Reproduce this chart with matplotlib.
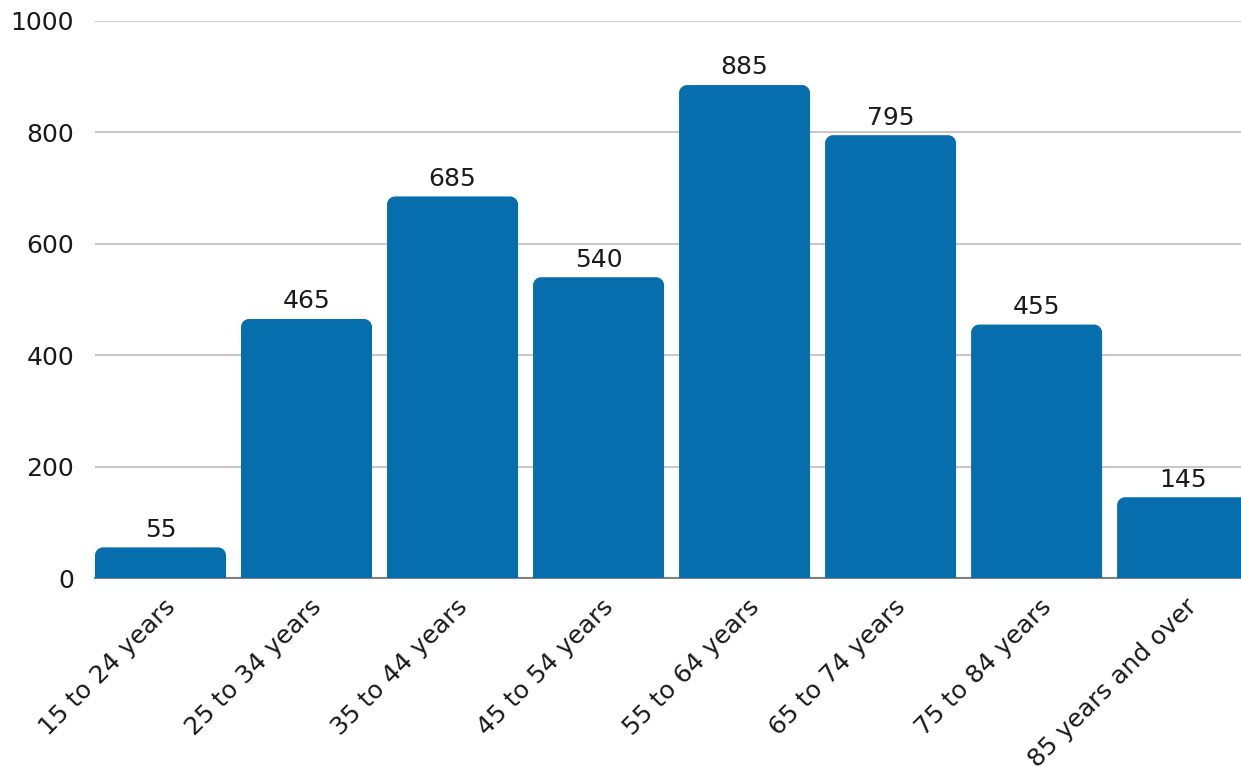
import matplotlib
matplotlib.use("Agg")
import matplotlib.pyplot as plt
from matplotlib.path import Path
from matplotlib.patches import PathPatch
from matplotlib.transforms import ScaledTranslation

categories = ["15 to 24 years", "25 to 34 years", "35 to 44 years", "45 to 54 years",
              "55 to 64 years", "65 to 74 years", "75 to 84 years", "85 years and over"]
values = [55, 465, 685, 540, 885, 795, 455, 145]
y_ticks = [0, 200, 400, 600, 800, 1000]

BAR_COLOR = "#066EAC"
TEXT_COLOR = "#1a1a1a"
FS = 18
plt.rcParams["font.family"] = ["DejaVu Sans"]

W, H = 1241, 772
fig = plt.figure(figsize=(W / 100, H / 100), dpi=100)
left, right, bottom, top = 95 / W, 1.0, 1 - 578 / H, 1 - 21 / H
ax = fig.add_axes([left, bottom, right - left, top - bottom])

bar_w = 131 / 146
xmin, xmax = -bar_w / 2, 7.40
ax.set_xlim(xmin, xmax)
ax.set_ylim(0, 1000)

# pixel-to-data scale for the corner radius
px_x = (xmax - xmin) / (W * (right - left))
px_y = 1000 / (H * (top - bottom))
r = 8
rx, ry = r * px_x, r * px_y
k = 0.5523


def rounded_bar(x0, w, h):
    x1 = x0 + w
    verts = [
        (x0, 0), (x0, h - ry),
        (x0, h - ry + k * ry), (x0 + rx - k * rx, h), (x0 + rx, h),
        (x1 - rx, h),
        (x1 - rx + k * rx, h), (x1, h - ry + k * ry), (x1, h - ry),
        (x1, 0), (x0, 0),
    ]
    codes = [Path.MOVETO, Path.LINETO,
             Path.CURVE4, Path.CURVE4, Path.CURVE4,
             Path.LINETO,
             Path.CURVE4, Path.CURVE4, Path.CURVE4,
             Path.LINETO, Path.CLOSEPOLY]
    return PathPatch(Path(verts, codes), facecolor=BAR_COLOR, edgecolor="none", zorder=3)


for i, v in enumerate(values):
    ax.add_patch(rounded_bar(i - bar_w / 2, bar_w, v))
    ax.annotate(f"{v}", (i, v), xytext=(0, 4), textcoords="offset points",
                ha="center", va="bottom", fontsize=FS, color=TEXT_COLOR, zorder=4)

ax.set_yticks(y_ticks)
ax.set_yticklabels([str(t) for t in y_ticks], fontsize=FS, color=TEXT_COLOR)
ax.yaxis.grid(True, color="#c8c8c8", linewidth=1.5, zorder=0)
ax.set_axisbelow(True)
ax.tick_params(axis="y", length=0, pad=15)

ax.set_xticks(range(len(categories)))
ax.set_xticklabels(categories, rotation=45, ha="right", va="center",
                   rotation_mode="anchor", fontsize=FS, color=TEXT_COLOR)
ax.tick_params(axis="x", length=0, pad=0)
offset = ScaledTranslation(11 / 100, -25 / 100, fig.dpi_scale_trans)
for lbl in ax.get_xticklabels():
    lbl.set_transform(lbl.get_transform() + offset)

for s in ["top", "right", "left"]:
    ax.spines[s].set_visible(False)
ax.spines["bottom"].set_color("#808080")
ax.spines["bottom"].set_linewidth(1.5)
ax.spines["bottom"].set_zorder(2)

fig.savefig("out.png", dpi=100)
